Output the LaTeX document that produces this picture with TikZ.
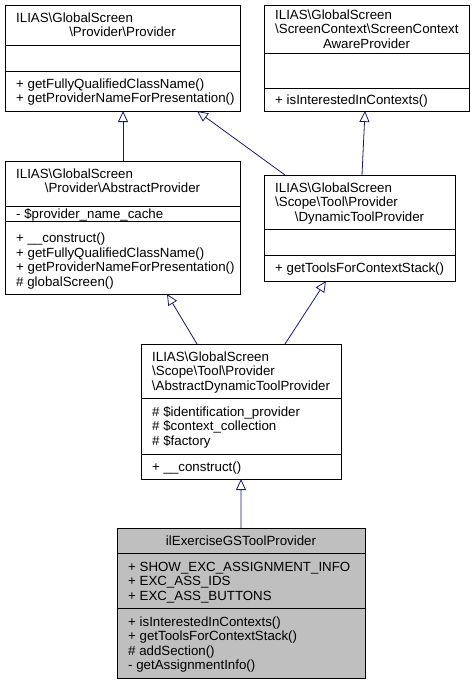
\documentclass[tikz,border=0pt]{standalone}
\usepackage{fontspec}
\setmainfont{Liberation Sans}
\usetikzlibrary{arrows.meta,calc}
\definecolor{edgeblue}{RGB}{25,25,112}
\definecolor{hlgray}{RGB}{191,191,191}
\begin{document}
\begin{tikzpicture}[x=1bp,y=-1bp,
  cls/.style={draw=black, line width=0.8bp, fill=white, inner sep=0pt, outer sep=0pt, anchor=north west},
  hlcls/.style={cls, fill=hlgray},
  divline/.style={draw=black, line width=0.8bp},
  txt/.style={inner sep=0pt, font=\fontsize{13.3bp}{14.5bp}\selectfont, anchor=base west},
  ctxt/.style={txt, anchor=base},
  inh/.style={draw=edgeblue, line width=0.8bp, -{Triangle[open, length=11bp, width=10bp]}}]
\fill[white] (0,0) rectangle (474,684);
\useasboundingbox (0,0) rectangle (474,684);

% boxes
\node[cls, minimum width=235bp, minimum height=106bp] (b1) at (5,5) {};
\node[cls, minimum width=205bp, minimum height=106bp] (b2) at (264,5) {};
\node[cls, minimum width=235bp, minimum height=133bp] (b3) at (5,161) {};
\node[cls, minimum width=191bp, minimum height=106bp] (b4) at (264,175) {};
\node[cls, minimum width=200bp, minimum height=135bp] (b5) at (141,344) {};
\node[hlcls, minimum width=248bp, minimum height=150bp] (b6) at (117,528) {};

% dividers
\draw[divline] ($(b1.north west)+(0,40)$) -- ($(b1.north east)+(0,40)$);
\draw[divline] ($(b1.north west)+(0,66)$) -- ($(b1.north east)+(0,66)$);
\draw[divline] ($(b2.north west)+(0,48)$) -- ($(b2.north east)+(0,48)$);
\draw[divline] ($(b2.north west)+(0,83)$) -- ($(b2.north east)+(0,83)$);
\draw[divline] ($(b3.north west)+(0,45)$) -- ($(b3.north east)+(0,45)$);
\draw[divline] ($(b3.north west)+(0,60)$) -- ($(b3.north east)+(0,60)$);
\draw[divline] ($(b4.north west)+(0,54)$) -- ($(b4.north east)+(0,54)$);
\draw[divline] ($(b4.north west)+(0,80)$) -- ($(b4.north east)+(0,80)$);
\draw[divline] ($(b5.north west)+(0,54)$) -- ($(b5.north east)+(0,54)$);
\draw[divline] ($(b5.north west)+(0,110)$) -- ($(b5.north east)+(0,110)$);
\draw[divline] ($(b6.north west)+(0,25.5)$) -- ($(b6.north east)+(0,25.5)$);
\draw[divline] ($(b6.north west)+(0,80.5)$) -- ($(b6.north east)+(0,80.5)$);

% box 1 texts
\node[txt] (t1a) at (16,22.4) {ILIAS\textbackslash GlobalScreen};
\node[ctxt] (t1b) at (122.5,36.9) {\textbackslash Provider\textbackslash Provider};
\node[txt] (t1c) at (16,88.4) {+ getFullyQualifiedClassName()};
\node[txt] (t1d) at (16,102.9) {+ getProviderNameForPresentation()};

% box 2 texts
\node[txt] (t2a) at (275,19.1) {ILIAS\textbackslash GlobalScreen};
\node[txt] (t2b) at (275,33.6) {\textbackslash ScreenContext\textbackslash ScreenContext};
\node[ctxt] (t2c) at (366.5,48.1) {AwareProvider};
\node[txt] (t2d) at (275,104.1) {+ isInterestedInContexts()};

% box 3 texts
\node[txt] (t3a) at (16,178) {ILIAS\textbackslash GlobalScreen};
\node[ctxt] (t3b) at (122.5,192.5) {\textbackslash Provider\textbackslash AbstractProvider};
\node[txt] (t3c) at (16,218) {- \$provider\_name\_cache};
\node[txt] (t3d) at (16,242.9) {+ \_\_construct()};
\node[txt] (t3e) at (16,257.4) {+ getFullyQualifiedClassName()};
\node[txt] (t3f) at (16,271.9) {+ getProviderNameForPresentation()};
\node[txt] (t3g) at (16,286.4) {\# globalScreen()};

% box 4 texts
\node[txt] (t4a) at (275,192.1) {ILIAS\textbackslash GlobalScreen};
\node[txt] (t4b) at (275,206.6) {\textbackslash Scope\textbackslash Tool\textbackslash Provider};
\node[ctxt] (t4c) at (359.5,221.1) {\textbackslash DynamicToolProvider};
\node[txt] (t4d) at (275,272.6) {+ getToolsForContextStack()};

% box 5 texts
\node[txt] (t5a) at (152,361.1) {ILIAS\textbackslash GlobalScreen};
\node[txt] (t5b) at (152,375.6) {\textbackslash Scope\textbackslash Tool\textbackslash Provider};
\node[ctxt] (t5c) at (241,390.1) {\textbackslash AbstractDynamicToolProvider};
\node[txt] (t5d) at (152,416.1) {\# \$identification\_provider};
\node[txt] (t5e) at (152,430.6) {\# \$context\_collection};
\node[txt] (t5f) at (152,445.1) {\# \$factory};
\node[txt] (t5g) at (152,471.1) {+ \_\_construct()};

% box 6 texts
\node[ctxt] (t6a) at (241,545.4) {ilExerciseGSToolProvider};
\node[txt] (t6b) at (128,571.1) {+ SHOW\_EXC\_ASSIGNMENT\_INFO};
\node[txt] (t6c) at (128,585.6) {+ EXC\_ASS\_IDS};
\node[txt] (t6d) at (128,600.1) {+ EXC\_ASS\_BUTTONS};
\node[txt] (t6e) at (128,626.1) {+ isInterestedInContexts()};
\node[txt] (t6f) at (128,640.6) {+ getToolsForContextStack()};
\node[txt] (t6g) at (128,655.1) {\# addSection()};
\node[txt] (t6h) at (128,669.6) {- getAssignmentInfo()};

% inheritance arrows
\draw[inh] ([xshift=118bp]b3.north west) -- ([xshift=118bp]b1.south west);
\draw[inh] ([xshift=21bp]b4.north west) -- ([xshift=192bp]b1.south west);
\draw[inh] ([xshift=98bp]b4.north west) -- ([xshift=101bp]b2.south west);
\draw[inh] ([xshift=56bp]b5.north west) -- ([xshift=162bp]b3.south west);
\draw[inh] ([xshift=144bp]b5.north west) -- ([xshift=62bp]b4.south west);
\draw[inh] (b6.north) -- (b5.south);
\end{tikzpicture}
\end{document}
